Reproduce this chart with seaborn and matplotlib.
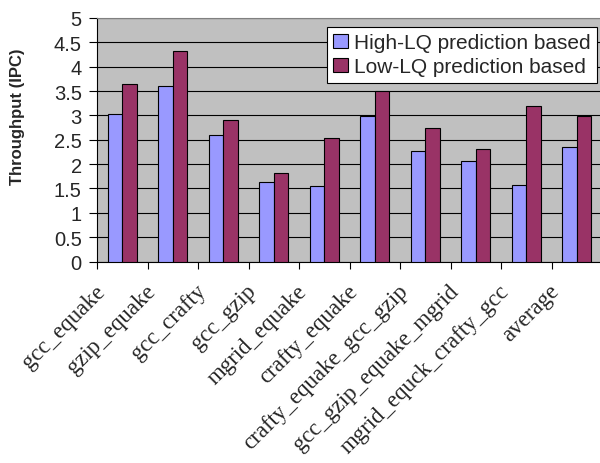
import matplotlib
matplotlib.use("Agg")
import matplotlib.pyplot as plt
import matplotlib.transforms as mtransforms
import seaborn as sns
import pandas as pd
import numpy as np

categories = ["gcc_equake", "gzip_equake", "gcc_crafty", "gcc_gzip", "mgrid_equake",
              "crafty_equake", "crafty_equake_gcc_gzip", "gcc_gzip_equake_mgrid",
              "mgrid_equck_crafty_gcc", "average"]
high_lq = [3.03, 3.60, 2.59, 1.64, 1.55, 2.99, 2.26, 2.06, 1.58, 2.36]
low_lq = [3.64, 4.32, 2.90, 1.82, 2.54, 3.51, 2.75, 2.31, 3.19, 2.99]
series_names = ["High-LQ prediction based", "Low-LQ prediction based"]
yticks = [0, 0.5, 1, 1.5, 2, 2.5, 3, 3.5, 4, 4.5, 5]
ytick_labels = ["0", "0.5", "1", "1.5", "2", "2.5", "3", "3.5", "4", "4.5", "5"]

df = pd.DataFrame({
    "cat": categories * 2,
    "val": high_lq + low_lq,
    "series": [series_names[0]] * len(categories) + [series_names[1]] * len(categories),
})

sns.set_style("white")
plt.rcParams["font.family"] = ["Liberation Sans", "DejaVu Sans"]

fig = plt.figure(figsize=(6, 4.64), dpi=100)
ax = fig.add_axes([97 / 600, 1 - 262.5 / 464, 505 / 600, 243.5 / 464])
ax.set_facecolor("#C0C0C0")

sns.barplot(data=df, x="cat", y="val", hue="series", order=categories,
            hue_order=series_names, palette=["#9999FF", "#993366"],
            width=0.57, gap=0, edgecolor="black", linewidth=0.8,
            saturation=1, ax=ax, errorbar=None, zorder=3)

ax.set_ylim(0, 5)
ax.set_xlim(-0.5, len(categories) - 0.5)
ax.set_yticks(yticks)
ax.set_yticklabels(ytick_labels, fontsize=14.5)
ax.yaxis.grid(True, color="black", linewidth=0.8, zorder=1)
ax.set_axisbelow(True)

ax.set_xticks(range(len(categories)))
ax.set_xticklabels(categories, rotation=45, ha="right", rotation_mode="anchor",
                   fontsize=16.5, family=["Liberation Serif", "DejaVu Serif"])
ax.tick_params(axis="x", which="major", length=0, pad=10)
shift = mtransforms.ScaledTranslation(-28 / 100, -5 / 100, fig.dpi_scale_trans)
for lab in ax.get_xticklabels():
    lab.set_transform(lab.get_transform() + shift)
ax.set_xticks(np.arange(-0.5, len(categories), 1.0), minor=True)
ax.tick_params(axis="x", which="minor", length=5, width=0.8, color="black", direction="out", bottom=True)
ax.tick_params(axis="y", length=6, width=0.8, color="black", direction="out", left=True, pad=5)

ax.set_xlabel("")
ax.set_ylabel("Throughput (IPC)", fontsize=12, fontweight="bold")
ax.yaxis.set_label_coords(-0.143, 0.598)

for s in ["left", "bottom"]:
    ax.spines[s].set_color("black")
    ax.spines[s].set_linewidth(0.8)
ax.spines["top"].set_color("#808080")
ax.spines["right"].set_visible(False)

leg = ax.legend(loc="upper right", bbox_to_anchor=(0.99, 0.963), fontsize=15,
                frameon=True, fancybox=False, framealpha=1, edgecolor="black",
                handlelength=0.7, handleheight=0.7, handletextpad=0.3,
                borderpad=0.3, labelspacing=0.25, borderaxespad=0)
leg.get_frame().set_linewidth(0.8)
leg.set_zorder(5)

fig.savefig("out.png", dpi=100)
